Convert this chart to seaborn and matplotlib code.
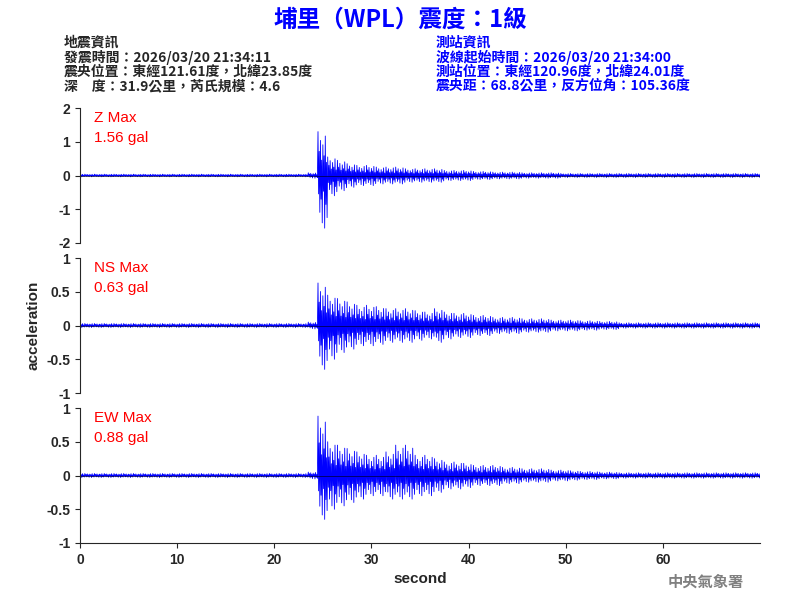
import numpy as np
import matplotlib
matplotlib.use("Agg")
import matplotlib.pyplot as plt
import seaborn as sns

sns.set_style("ticks")
plt.rcParams["font.family"] = ["Noto Sans CJK TC", "DejaVu Sans"]

# per-second peak amplitudes (gal), t = 0..70 s
seconds = list(range(71))
z_up = [0.04] * 24 + [0.08, 1.3, 0.55, 0.45, 0.35, 0.3, 0.3, 0.25, 0.25, 0.25, 0.2, 0.2, 0.2, 0.2, 0.15, 0.15,
                      0.15, 0.12, 0.12, 0.1, 0.1, 0.1, 0.08, 0.08, 0.08, 0.08] + [0.06] * 21
z_dn = [-0.04] * 24 + [-0.08, -1.56, -0.6, -0.45, -0.35, -0.3, -0.3, -0.25, -0.25, -0.25, -0.2, -0.2, -0.2, -0.2, -0.15, -0.15,
                       -0.15, -0.12, -0.12, -0.1, -0.1, -0.1, -0.08, -0.08, -0.08, -0.08] + [-0.06] * 21
ns_up = [0.03] * 24 + [0.05, 0.63, 0.45, 0.4, 0.35, 0.3, 0.3, 0.28, 0.25, 0.25, 0.25, 0.22, 0.2, 0.25, 0.2, 0.18,
                       0.18, 0.15, 0.15, 0.12, 0.12, 0.12, 0.1, 0.1, 0.1, 0.08, 0.08, 0.08, 0.07, 0.07, 0.06, 0.06] + [0.04] * 15
ns_dn = [-0.03] * 24 + [-0.05, -0.65, -0.5, -0.4, -0.35, -0.3, -0.3, -0.28, -0.25, -0.25, -0.25, -0.22, -0.2, -0.25, -0.2, -0.18,
                        -0.18, -0.15, -0.15, -0.12, -0.12, -0.12, -0.1, -0.1, -0.1, -0.08, -0.08, -0.08, -0.07, -0.07, -0.06, -0.06] + [-0.04] * 15
ew_up = [0.03] * 24 + [0.05, 0.88, 0.5, 0.45, 0.4, 0.35, 0.3, 0.3, 0.35, 0.45, 0.45, 0.3, 0.3, 0.25, 0.2, 0.2,
                       0.18, 0.15, 0.15, 0.15, 0.12, 0.12, 0.1, 0.1, 0.1, 0.08, 0.08, 0.07, 0.06, 0.06, 0.05, 0.05] + [0.04] * 15
ew_dn = [-0.03] * 24 + [-0.05, -0.65, -0.5, -0.45, -0.4, -0.35, -0.3, -0.3, -0.35, -0.35, -0.35, -0.3, -0.3, -0.25, -0.2, -0.2,
                        -0.18, -0.15, -0.15, -0.15, -0.12, -0.12, -0.1, -0.1, -0.1, -0.08, -0.08, -0.07, -0.06, -0.06, -0.05, -0.05] + [-0.04] * 15

labels = ["Z Max\n1.56 gal", "NS Max\n0.63 gal", "EW Max\n0.88 gal"]
ylims = [(-2, 2), (-1, 1), (-1, 1)]
yticks = [[-2, -1, 0, 1, 2], [-1, -0.5, 0, 0.5, 1], [-1, -0.5, 0, 0.5, 1]]
ytick_labels = [["-2", "-1", "0", "1", "2"], ["-1", "-0.5", "0", "0.5", "1"], ["-1", "-0.5", "0", "0.5", "1"]]

# zigzag drawing: each per-second reading is drawn as several swings
pattern = [1.0, 0.55, 0.8, 0.35, 0.7, 0.45, 0.9, 0.3]


def trace(up, dn, shift=0.5):
    xs, ys = [], []
    n = len(pattern)
    for t, u, d in zip(seconds, up, dn):
        for k, p in enumerate(pattern):
            xs += [t - shift + k / n, t - shift + (k + 0.5) / n]
            ys += [u * p, d * pattern[(k + 3) % n]]
    return np.array(xs), np.array(ys)


tick_font = {"family": "Liberation Sans", "weight": "bold", "size": 10}
fig = plt.figure(figsize=(8, 6), dpi=100)
boxes = [(0.1, 0.595, 0.85, 0.225), (0.1, 0.345, 0.85, 0.225), (0.1, 0.095, 0.85, 0.225)]
for i, (up, dn) in enumerate([(z_up, z_dn), (ns_up, ns_dn), (ew_up, ew_dn)]):
    ax = fig.add_axes(boxes[i])
    x, y = trace(up, dn)
    sns.lineplot(x=x, y=y, ax=ax, color="blue", linewidth=0.6, sort=False, estimator=None)
    ax.axhline(0, color="black", linewidth=0.4)
    ax.set_xlim(0, 70)
    ax.set_ylim(*ylims[i])
    ax.set_yticks(yticks[i])
    ax.set_yticklabels(ytick_labels[i], fontdict=tick_font)
    ax.spines["top"].set_visible(False)
    ax.spines["right"].set_visible(False)
    ax.text(0.02, 0.98, labels[i], transform=ax.transAxes, color="red", fontsize=11,
            va="top", family="Liberation Sans", linespacing=1.6)
    if i < 2:
        ax.spines["bottom"].set_visible(False)
        ax.set_xticks([])
    else:
        ax.set_xticks([0, 10, 20, 30, 40, 50, 60])
        ax.set_xticklabels(["0", "10", "20", "30", "40", "50", "60"], fontdict=tick_font)
        ax.set_xlabel("second", fontsize=11, family="Liberation Sans", fontweight="bold")
    if i == 1:
        ax.set_ylabel("acceleration", fontsize=11, family="Liberation Sans", fontweight="bold")

fig.text(0.5, 0.968, "埔里（WPL）震度：1級", color="blue", fontsize=17, fontweight="bold", ha="center", va="center")
left = "地震資訊\n發震時間：2026/03/20 21:34:11\n震央位置：東經121.61度，北緯23.85度\n深　度：31.9公里，芮氏規模：4.6"
right = "測站資訊\n波線起始時間：2026/03/20 21:34:00\n測站位置：東經120.96度，北緯24.01度\n震央距：68.8公里，反方位角：105.36度"
fig.text(0.08, 0.94, left, fontsize=10, va="top", linespacing=1.0, fontweight="bold")
fig.text(0.545, 0.94, right, fontsize=10, va="top", color="blue", linespacing=1.0, fontweight="bold")
fig.text(0.93, 0.03, "中央氣象署", fontsize=11, color="gray", ha="right", va="center", fontweight="bold")

fig.savefig("out.png", dpi=100)
